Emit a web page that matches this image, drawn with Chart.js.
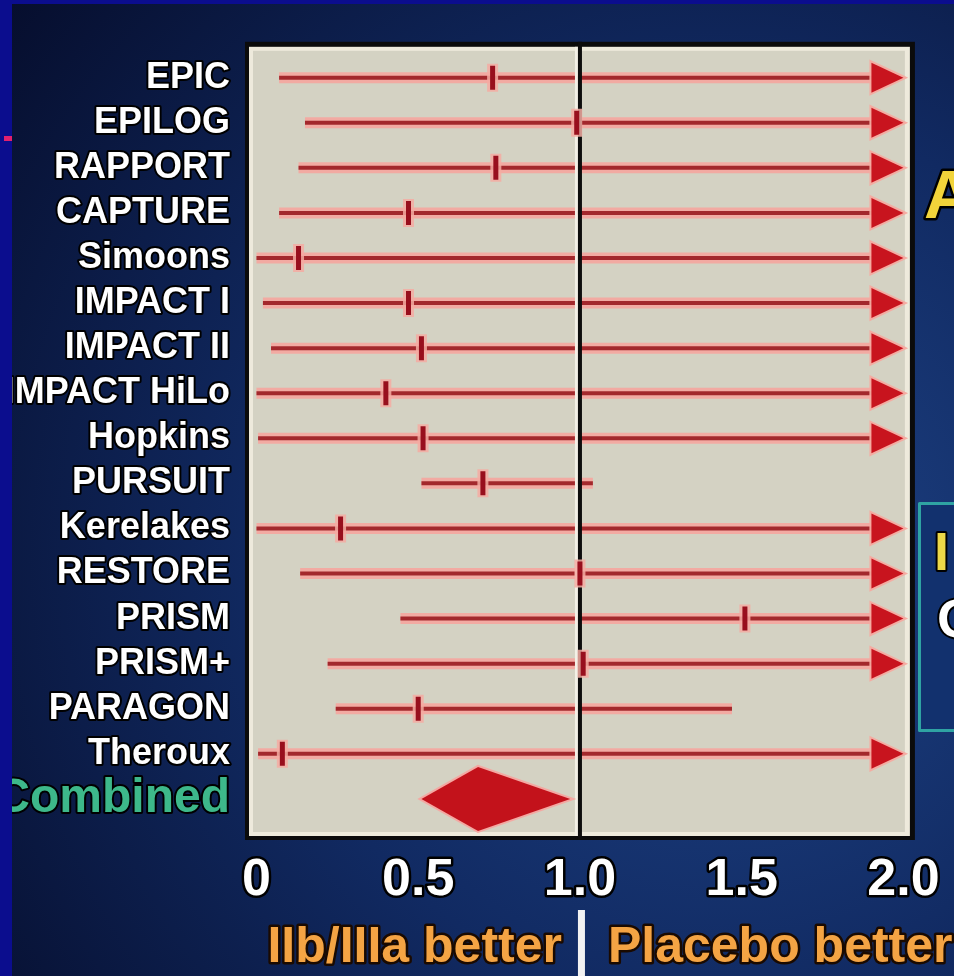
<!DOCTYPE html>
<html>
<head>
<meta charset="utf-8">
<script src="https://cdn.jsdelivr.net/npm/chart.js@4.4.0/dist/chart.umd.min.js"></script>
<style>
  body { margin: 0; background: #0a1640; }
  canvas { display: block; }
</style>
</head>
<body>
<canvas id="stage1" width="954" height="976"></canvas>
<script>
var canvas1 = document.getElementById('stage1');

// trials, odds ratio with 95% CI (upper null = runs off the scale -> arrow)
var trials = ['EPIC', 'EPILOG', 'RAPPORT', 'CAPTURE', 'Simoons', 'IMPACT I', 'IMPACT II', 'IMPACT HiLo',
              'Hopkins', 'PURSUIT', 'Kerelakes', 'RESTORE', 'PRISM', 'PRISM+', 'PARAGON', 'Theroux'];
var lower = [0.07, 0.15, 0.13, 0.07, 0.0, 0.02, 0.045, 0.0, 0.005, 0.51, 0.0, 0.135, 0.445, 0.22, 0.245, 0.005];
var est   = [0.73, 0.99, 0.74, 0.47, 0.13, 0.47, 0.51, 0.40, 0.515, 0.70, 0.26, 1.0, 1.51, 1.01, 0.50, 0.08];
var upper = [null, null, null, null, null, null, null, null, null, 1.04, null, null, null, null, 1.47, null];

var combinedLabel = 'Combined';
var combined = [0.51, 0.685, 0.97];   // lower, estimate, upper

var xTicks = [0, 0.5, 1.0, 1.5, 2.0];
var xTickLabels = ['0', '0.5', '1.0', '1.5', '2.0'];
var refValue = 1.0;
var axisMax = 2.0;

var rowLabels = trials.concat([combinedLabel]);

var forestPlugin = {
  id: 'forest',
  beforeDraw: function(chart) {
    var ctx = chart.ctx, a = chart.chartArea;
    ctx.save();
    var g = ctx.createRadialGradient(720, 560, 40, 720, 560, 950);
    g.addColorStop(0, '#1d4183');
    g.addColorStop(0.45, '#112a62');
    g.addColorStop(1, '#050b28');
    ctx.fillStyle = g;
    ctx.fillRect(0, 0, chart.width, chart.height);
    // plot panel: dark frame, cream edge, beige face
    ctx.fillStyle = '#0b0b0b';
    ctx.fillRect(a.left - 5, a.top - 7, a.width + 10, a.height + 12);
    ctx.fillStyle = '#eeeadc';
    ctx.fillRect(a.left - 1, a.top - 2, a.width + 1, a.height + 3);
    ctx.fillStyle = '#d4d2c3';
    ctx.fillRect(a.left + 3, a.top + 2, a.width - 8, a.height - 5);
    ctx.restore();
    // rounded joins for the outlined tick labels (no miter spikes)
    ctx.lineJoin = 'round';
  },
  beforeDatasetsDraw: function(chart) {
    var ctx = chart.ctx, x = chart.scales.x, y = chart.scales.y, a = chart.chartArea;
    ctx.save();
    ctx.lineCap = 'butt';
    var arrowLen = 32, arrowHalf = 15;
    trials.forEach(function(t, i) {
      var yy = y.getPixelForValue(i);
      var x0 = x.getPixelForValue(lower[i]);
      var isArrow = upper[i] === null;
      var x1 = x.getPixelForValue(isArrow ? axisMax : upper[i]);
      var xe = isArrow ? x1 - arrowLen + 4 : x1;
      ctx.strokeStyle = 'rgba(243,168,160,0.95)';
      ctx.lineWidth = 11;
      ctx.beginPath(); ctx.moveTo(x0, yy); ctx.lineTo(xe, yy); ctx.stroke();
      ctx.strokeStyle = '#a3282c';
      ctx.lineWidth = 4;
      ctx.beginPath(); ctx.moveTo(x0, yy); ctx.lineTo(xe, yy); ctx.stroke();
    });

    // line of no effect
    var xr = x.getPixelForValue(refValue);
    ctx.fillStyle = '#f3f0e6';
    ctx.fillRect(xr - 5, a.top - 2, 3, a.height + 3);
    ctx.fillStyle = '#0d0d0d';
    ctx.fillRect(xr - 2, a.top - 7, 4, a.height + 12);

    // arrows for intervals beyond the axis
    trials.forEach(function(t, i) {
      if (upper[i] !== null) return;
      var yy = y.getPixelForValue(i);
      var tip = x.getPixelForValue(axisMax);
      ctx.beginPath();
      ctx.moveTo(tip, yy);
      ctx.lineTo(tip - arrowLen, yy - arrowHalf);
      ctx.lineTo(tip - arrowLen, yy + arrowHalf);
      ctx.closePath();
      ctx.lineJoin = 'miter';
      ctx.strokeStyle = 'rgba(245,170,160,0.95)';
      ctx.lineWidth = 4;
      ctx.stroke();
      ctx.fillStyle = '#c8141e';
      ctx.fill();
    });

    // combined diamond
    var yc = y.getPixelForValue(trials.length);
    ctx.beginPath();
    ctx.moveTo(x.getPixelForValue(combined[0]), yc);
    ctx.lineTo(x.getPixelForValue(combined[1]), yc - 32);
    ctx.lineTo(x.getPixelForValue(combined[2]), yc);
    ctx.lineTo(x.getPixelForValue(combined[1]), yc + 32);
    ctx.closePath();
    ctx.strokeStyle = 'rgba(245,165,160,0.95)';
    ctx.lineWidth = 4;
    ctx.stroke();
    ctx.fillStyle = '#c3121b';
    ctx.fill();
    ctx.restore();
  },
  afterDraw: function(chart) {
    var ctx = chart.ctx, x = chart.scales.x;
    ctx.save();
    // favours text under the axis
    var xr = x.getPixelForValue(refValue);
    ctx.font = 'bold 50px "Liberation Sans", Arial, sans-serif';
    ctx.textBaseline = 'alphabetic';
    ctx.lineJoin = 'round';
    ctx.lineWidth = 5;
    ctx.strokeStyle = '#1a0a00';
    ctx.fillStyle = '#f4a444';
    ctx.textAlign = 'right';
    ctx.strokeText('IIb/IIIa better', xr - 18, 962);
    ctx.fillText('IIb/IIIa better', xr - 18, 962);
    ctx.textAlign = 'left';
    ctx.strokeText('Placebo better', xr + 28, 962);
    ctx.fillText('Placebo better', xr + 28, 962);
    ctx.fillStyle = '#f2f2f2';
    ctx.fillRect(xr - 2, 910, 7, 66);

    // cut-off slide text on the right
    ctx.font = 'bold 68px "Liberation Sans", Arial, sans-serif';
    ctx.textAlign = 'left';
    ctx.lineWidth = 5;
    ctx.strokeStyle = '#000';
    ctx.fillStyle = '#f2d43a';
    ctx.strokeText('A', 924, 218);
    ctx.fillText('A', 924, 218);

    ctx.fillStyle = '#12316e';
    ctx.fillRect(919, 503, 40, 228);
    ctx.strokeStyle = '#2fa3a3';
    ctx.lineWidth = 3;
    ctx.strokeRect(919.5, 503.5, 60, 227);
    ctx.font = 'bold 54px "Liberation Sans", Arial, sans-serif';
    ctx.lineWidth = 4;
    ctx.strokeStyle = '#000';
    ctx.fillStyle = '#ecd848';
    ctx.strokeText('I', 934, 570);
    ctx.fillText('I', 934, 570);
    ctx.fillStyle = '#ffffff';
    ctx.strokeText('O', 937, 637);
    ctx.fillText('O', 937, 637);

    // blue slide border
    ctx.fillStyle = '#0b0d8e';
    ctx.fillRect(0, 0, 12, chart.height);
    ctx.fillRect(0, 0, chart.width, 4);
    ctx.fillStyle = '#e3206e';
    ctx.fillRect(4, 136, 8, 5);
    ctx.restore();
  }
};

var pts = trials.map(function(t, i) { return { x: est[i], y: i }; });

var chart = new Chart(canvas1, {
  type: 'scatter',
  data: {
    datasets: [{
      data: pts,
      pointStyle: 'line',
      rotation: 90,
      radius: 12,
      hoverRadius: 12,
      borderWidth: 5,
      borderColor: '#980f1d',
      backgroundColor: '#980f1d'
    }, {
      data: pts,
      pointStyle: 'line',
      rotation: 90,
      radius: 14,
      hoverRadius: 14,
      borderWidth: 11,
      borderColor: 'rgba(244,172,162,0.85)',
      backgroundColor: 'rgba(244,172,162,0.85)'
    }]
  },
  options: {
    responsive: false,
    animation: false,
    events: [],
    layout: { padding: { left: 12, top: 42, right: 44, bottom: 0 } },
    plugins: {
      legend: { display: false },
      tooltip: { enabled: false }
    },
    scales: {
      x: {
        type: 'linear',
        min: -0.02,
        max: 2.02,
        grid: { display: false, drawTicks: false },
        border: { display: false },
        afterBuildTicks: function(axis) {
          axis.ticks = xTicks.map(function(v) { return { value: v }; });
        },
        afterFit: function(axis) { axis.height = 141; },
        ticks: {
          autoSkip: false,
          maxRotation: 0,
          padding: 14,
          color: '#ffffff',
          textStrokeColor: '#000000',
          textStrokeWidth: 5,
          font: { family: 'Liberation Sans', weight: 'bold', size: 52 },
          callback: function(value, index) { return xTickLabels[index]; }
        }
      },
      y: {
        type: 'linear',
        reverse: true,
        min: -0.64,
        max: 16.8,
        grid: { display: false, drawTicks: false },
        border: { display: false },
        afterBuildTicks: function(axis) {
          axis.ticks = rowLabels.map(function(n, i) { return { value: i }; });
        },
        afterFit: function(axis) { axis.width = 238; },
        ticks: {
          autoSkip: false,
          padding: 20,
          textStrokeColor: '#000000',
          textStrokeWidth: 4,
          color: function(c) { return c.index === trials.length ? '#3db88a' : '#ffffff'; },
          font: function(c) {
            return { family: 'Liberation Sans', weight: 'bold', size: c.index === trials.length ? 48 : 36 };
          },
          callback: function(value) { return rowLabels[value]; }
        }
      }
    }
  },
  plugins: [forestPlugin]
});
</script>
</body>
</html>
